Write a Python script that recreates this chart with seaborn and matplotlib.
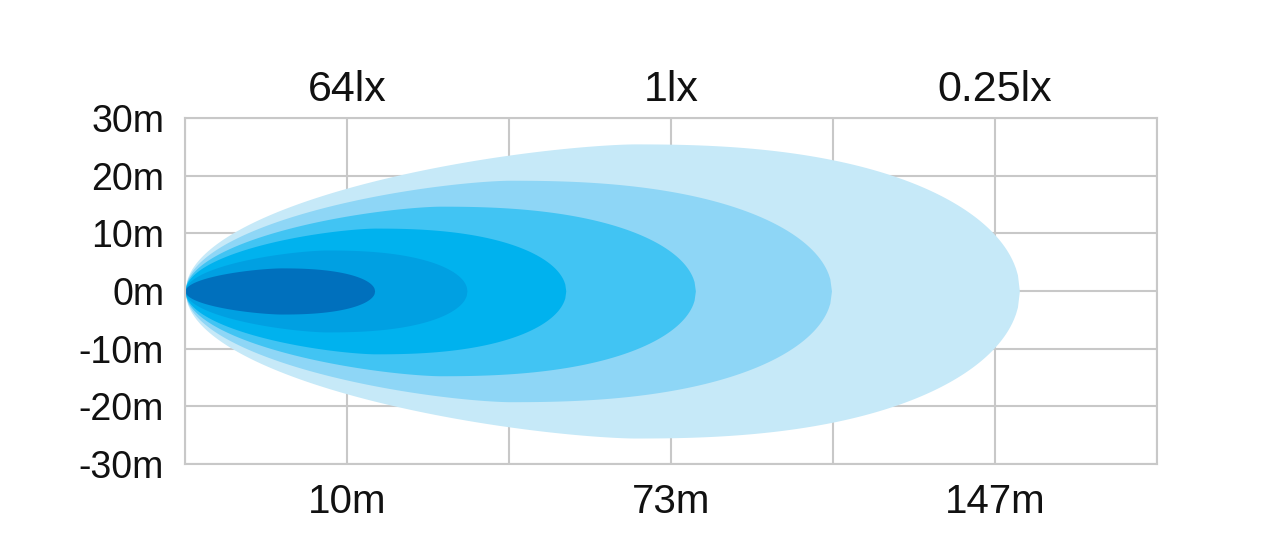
import numpy as np
import matplotlib.pyplot as plt
import seaborn as sns

# Beam pattern data (x in grid columns, y in metres)
grid_cols = [0, 1, 2, 3, 4, 5, 6]
distance_labels = ['', '10m', '', '73m', '', '147m', '']
lux_positions = [1, 3, 5]
lux_labels = ['64lx', '1lx', '0.25lx']
y_ticks = [-30, -20, -10, 0, 10, 20, 30]
y_labels = ['-30m', '-20m', '-10m', '0m', '10m', '20m', '30m']

# beams listed from outermost to innermost
beam_reach = [5.15, 3.99, 3.15, 2.35, 1.74, 1.17]
beam_peak = [2.77, 2.00, 1.57, 1.17, 0.87, 0.59]
beam_half_width = [25.5, 19.2, 14.7, 10.9, 7.1, 4.0]
beam_colors = ['#c6e9f8', '#8ed6f6', '#41c4f3', '#00b2ee', '#00a0e2', '#0070bd']

sns.set_theme(style='white')
plt.rcParams['font.family'] = ['Liberation Sans', 'DejaVu Sans']

fig = plt.figure(figsize=(12.77, 5.59), dpi=100)
ax = fig.add_axes([0.1449, 0.17, 0.9061 - 0.1449, 0.789 - 0.17])


def beam_outline(reach, peak, half):
    # rounded nose rising to the widest point, then elliptical tip
    x1 = np.linspace(0, peak, 200)
    t = (peak - x1) / peak
    y1 = half * np.sqrt(np.clip(1 - t ** 1.5, 0, None))
    x2 = np.linspace(peak, reach, 200)
    u = (x2 - peak) / (reach - peak)
    y2 = half * np.clip(1 - u ** 2.4, 0, None) ** 0.5
    return np.concatenate([x1, x2]), np.concatenate([y1, y2])


for r, p, h, c in zip(beam_reach, beam_peak, beam_half_width, beam_colors):
    xs, ys = beam_outline(r, p, h)
    ax.fill_between(xs, -ys, ys, color=c, linewidth=0, zorder=2)

ax.set_xlim(0, 6)
ax.set_ylim(-30, 30)
ax.set_xticks(grid_cols)
ax.set_xticklabels(distance_labels, fontsize=29)
ax.set_yticks(y_ticks)
ax.set_yticklabels(y_labels, fontsize=27)
ax.grid(True, color='#c8c8c8', linewidth=1.5, zorder=0)
ax.set_axisbelow(True)
for s in ax.spines.values():
    s.set_color('#c8c8c8')
    s.set_linewidth(1.5)
ax.tick_params(axis='y', length=3, pad=12, colors='#111111')
ax.tick_params(axis='y', color='#c8c8c8')
ax.tick_params(axis='x', length=0, pad=14, colors='#111111')

top = ax.secondary_xaxis('top')
top.set_xticks(lux_positions)
top.set_xticklabels(lux_labels, fontsize=31)
top.tick_params(length=0, pad=6, colors='#111111')
top.spines['top'].set_visible(False)

fig.savefig('out.png', dpi=100, facecolor='white')
